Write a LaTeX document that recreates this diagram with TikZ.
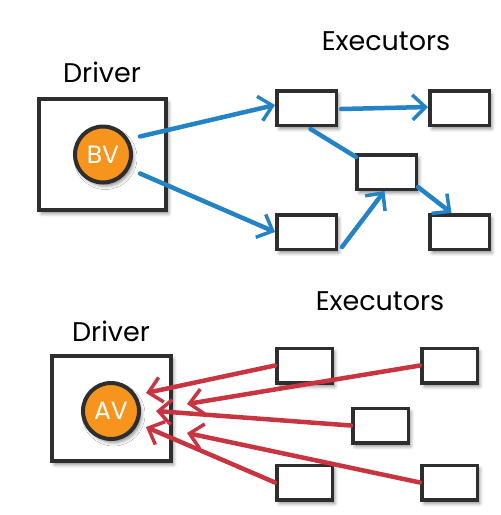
\documentclass[tikz,border=0pt]{standalone}
\usepackage{fontspec}
\setmainfont{Poppins}
\usetikzlibrary{arrows.meta,shadows.blur,calc}
\definecolor{bluearr}{HTML}{2483C5}
\definecolor{redarr}{HTML}{C8343F}
\definecolor{orng}{HTML}{F7941D}
\definecolor{ink}{HTML}{2E2E2E}
\begin{document}
\begin{tikzpicture}[x=1pt,y=-1pt,
  shd/.style={blur shadow={shadow xshift=2.5pt,shadow yshift=-3.5pt,shadow blur radius=3.5pt,shadow opacity=45}},
  drvbox/.style={draw=ink,line width=4pt,fill=white,shd,inner sep=0pt},
  exbox/.style={draw=ink,line width=3.5pt,fill=white,shd,minimum width=59.5pt,minimum height=34.5pt,inner sep=0pt},
  bcast/.style={circle,draw=ink,line width=4pt,fill=orng,shd,minimum size=56pt,inner sep=0pt,text=white,font=\fontsize{25}{25}\selectfont},
  lbl/.style={font=\fontsize{27}{27}\selectfont,text=black,inner sep=0pt},
  tip/.style={-{Straight Barb[length=13pt,width=25pt,line width=3.5pt]}},
  barr/.style={draw=bluearr,line width=4.5pt,line cap=round,tip},
  bline/.style={draw=bluearr,line width=4.5pt,line cap=round},
  rarr/.style={draw=redarr,line width=4.5pt,line cap=round,tip}
]
\path[use as bounding box] (0,0) rectangle (501,515);

% ---------- top: broadcast ----------
\node[lbl] (d1) at (102,72) {Driver};
\node[lbl] (x1) at (386,41) {Executors};
\node[drvbox,minimum width=127pt,minimum height=111pt] (drv1) at (102.5,154.5) {};
\node[bcast] (bv) at (103,154.5) {BV};
\node[exbox] (t1) at (306.5,108) {};
\node[exbox] (t2) at (459.5,108) {};
\node[exbox] (t3) at (386.5,172) {};
\node[exbox] (t4) at (306.5,232) {};
\node[exbox] (t5) at (459.5,232) {};

\draw[barr] ([shift={(37,-18)}]bv.center) -- ([shift={(0,-3)}]t1.west);
\draw[barr] ([shift={(37,19)}]bv.center) -- (t4.west);
\draw[barr] ([shift={(3,1)}]t1.east) -- ([shift={(0,-1)}]t2.west);
\draw[bline] ([shift={(4,2)}]t1.south) -- ([shift={(1,4)}]t3.north west);
\draw[barr] ([shift={(4,-4)}]t4.south east) -- ([shift={(-2,0)}]t3.south);
\draw[barr] ([shift={(0,-4)}]t3.south east) -- ([shift={(-8,0)}]t5.north);

% ---------- bottom: accumulator ----------
\node[lbl] (d2) at (111,331) {Driver};
\node[lbl] (x2) at (380,301) {Executors};
\node[drvbox,minimum width=119pt,minimum height=105pt] (drv2) at (111.5,408.5) {};
\node[bcast] (av) at (111,411) {AV};
\node[exbox,minimum width=55.5pt] (b1) at (304.5,365.5) {};
\node[exbox,minimum width=55.5pt] (b2) at (449.5,365.5) {};
\node[exbox,minimum width=55.5pt] (b3) at (380.5,425.5) {};
\node[exbox,minimum width=55.5pt] (b4) at (304.5,482.5) {};
\node[exbox,minimum width=55.5pt] (b5) at (449.5,482.5) {};

\draw[rarr] (b1.west) -- ([shift={(35,-18)}]av.center);
\draw[rarr] (b2.west) -- ([shift={(76,-7)}]av.center);
\draw[rarr] (b3.west) -- ([shift={(45,0)}]av.center);
\draw[rarr] (b4.west) -- ([shift={(35,16)}]av.center);
\draw[rarr] (b5.west) -- ([shift={(76,22)}]av.center);
\end{tikzpicture}
\end{document}
